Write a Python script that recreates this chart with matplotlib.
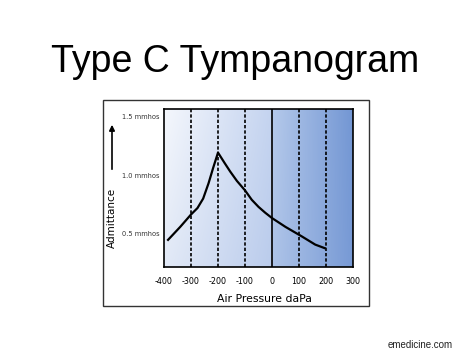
import numpy as np
import matplotlib
matplotlib.use("Agg")
import matplotlib.pyplot as plt
from matplotlib.patches import Rectangle, FancyArrowPatch

# data
pressure = [-385, -340, -300, -276, -255, -235, -218, -200, -175, -155, -130, -100,
            -75, -50, -25, 0, 50, 110, 160, 195]
admittance = [0.45, 0.56, 0.665, 0.72, 0.80, 0.93, 1.06, 1.19, 1.10, 1.03, 0.95, 0.87,
              0.79, 0.73, 0.68, 0.635, 0.56, 0.48, 0.41, 0.38]
x_ticks = [-400, -300, -200, -100, 0, 100, 200, 300]
x_labels = ["-400", "-300", "-200", "-100", "0", "100", "200", "300"]
dashed_at = [-300, -200, -100, 100, 200]
y_ticks = [0.5, 1.0, 1.5]
y_labels = ["0.5 mmhos", "1.0 mmhos", "1.5 mmhos"]

W, H = 474, 355
fig = plt.figure(figsize=(W / 100, H / 100), dpi=100)


def fx(px):
    return px / W


def fy(py):
    return 1 - py / H


x0, x1, y0, y1 = -400, 300, 0.22, 1.564
ax = fig.add_axes([fx(164), fy(267), (353 - 164) / W, (267 - 108.5) / H])

# blue gradient background, split at 0
xs = np.linspace(x0, x1, 500)
left = np.array([[0.96, 0.97, 0.99], [0.77, 0.83, 0.94]])
right = np.array([[0.71, 0.79, 0.92], [0.45, 0.59, 0.83]])
img_row = np.zeros((len(xs), 3))
for i, x in enumerate(xs):
    if x < 0:
        t = (x - x0) / (0 - x0)
        img_row[i] = left[0] * (1 - t) + left[1] * t
    else:
        t = x / x1
        img_row[i] = right[0] * (1 - t) + right[1] * t
vs = np.linspace(0, 1, 120)  # 0 bottom, 1 top
blue = np.array([0.55, 0.66, 0.86])
img = np.zeros((len(vs), len(xs), 3))
for j, v in enumerate(vs):
    k = 0.18 * (1 - v)
    img[j] = img_row * (1 - k) + blue * k
ax.imshow(img, extent=(x0, x1, y0, y1), origin="lower", aspect="auto", zorder=0)

for xd in dashed_at:
    ax.axvline(xd, color="black", lw=1.2, ls=(0, (2, 1.2)), zorder=1)
ax.axvline(0, color="black", lw=1.2, zorder=1)

ax.plot(pressure, admittance, color="black", lw=1.6, zorder=2)

ax.set_xlim(x0, x1)
ax.set_ylim(y0, y1)
ax.set_xticks(x_ticks, labels=x_labels)
ax.set_yticks(y_ticks, labels=y_labels)
ax.tick_params(axis="x", length=0, pad=7.5, labelsize=5.8)
ax.tick_params(axis="y", length=0, pad=3.5, labelsize=4.8, labelcolor="#333333")
for s in ax.spines.values():
    s.set_linewidth(1.2)
    s.set_color("black")

# outer frame around the chart
fig.add_artist(Rectangle((fx(103), fy(306)), (369 - 103) / W, (306 - 100) / H,
                         transform=fig.transFigure, fill=False, ec="#333333", lw=1))

# arrow above the y label
fig.add_artist(FancyArrowPatch((fx(112), fy(172)), (fx(112), fy(122)),
                               transform=fig.transFigure, arrowstyle="-|>",
                               mutation_scale=8, color="black", lw=1.2))

fig.text(fx(112), fy(218), "Admittance", rotation=90, ha="center", va="center", fontsize=7.5)
fig.text(fx(264), fy(302), "Air Pressure daPa", ha="center", va="baseline", fontsize=7.8)

fig.text(fx(235.5), fy(71.7), "Type C Tympanogram", ha="center", va="baseline",
         fontsize=27, family="Liberation Sans")
fig.text(fx(453), fy(348), "emedicine.com", ha="right", va="baseline",
         fontsize=7, family="Liberation Sans", color="#222222")

fig.savefig("out.png", dpi=100)
